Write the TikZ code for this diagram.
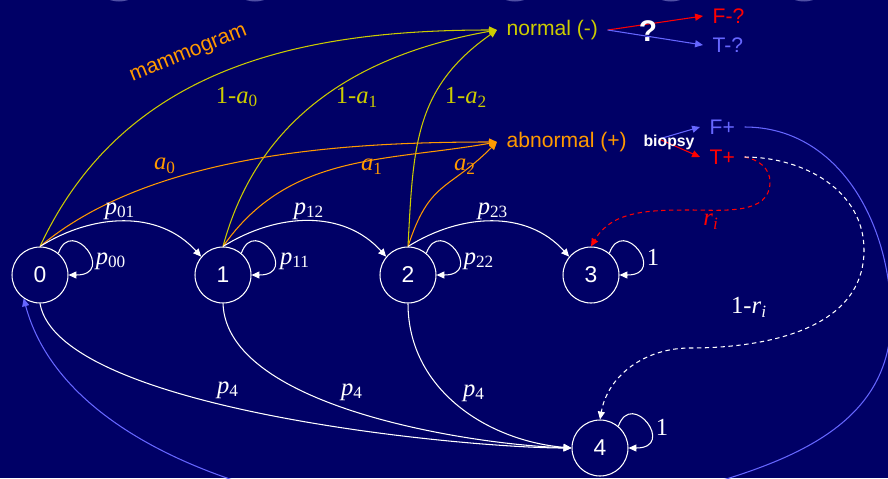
\documentclass[tikz,border=0pt]{standalone}
\usepackage{fontspec}
\setmainfont{Liberation Serif}
\setsansfont{Liberation Sans}
\usepackage{tikz}
\usetikzlibrary{arrows.meta}

\definecolor{bgnavy}{RGB}{0,0,102}
\definecolor{mamyellow}{RGB}{204,204,0}
\definecolor{mamorange}{RGB}{255,153,0}
\definecolor{fpblue}{RGB}{102,102,255}
\definecolor{tpred}{RGB}{255,0,0}
\definecolor{blobblue}{RGB}{80,80,165}

\newcommand{\lbl}[2]{\textit{#1}\textsubscript{#2}}

\begin{document}
\begin{tikzpicture}[
    x=0.02cm, y=0.02cm,
    state/.style={circle, draw=white, line width=0.6pt, minimum size=1.12cm, inner sep=0pt, text=white, font=\sffamily\fontsize{13}{15}\selectfont},
    result/.style={inner sep=2pt, outer sep=3.5pt, font=\sffamily\fontsize{12}{14}\selectfont},
    prob/.style={inner sep=1pt, font=\fontsize{14}{16}\selectfont},
    line/.style={draw, line width=0.6pt, -{Triangle[length=4.5pt, width=4pt]}},
    wline/.style={line, white},
    yline/.style={line, mamyellow},
    oline/.style={line, mamorange},
    dline/.style={line, dash pattern=on 2.5pt off 2pt},
    selfloop/.style={out=70, in=0, out distance=0.8cm, in distance=0.96cm}
]

    \useasboundingbox (0,0) rectangle (888,478);
    \fill [bgnavy] (0,0) rectangle (888,478);
    \clip (0,0) rectangle (888,478);

    % slide decoration
    \foreach \bx in {119,255,515,671,804}
        \fill [blobblue] (\bx,493) ellipse (22 and 16.5);

    % States
    \node (s0) [state] at (40,203) {0};
    \node (s1) [state] at (223,203) {1};
    \node (s2) [state] at (408,203) {2};
    \node (s3) [state] at (591,203) {3};
    \node (s4) [state] at (600,30) {4};

    % Mammogram results
    \node (normal) [result, anchor=west, text=mamyellow] at (497,448) {normal (-)};
    \node (abnormal) [result, anchor=west, text=mamorange] at (497,336) {abnormal (+)};
    \node (fq) [result, anchor=west, text=tpred] at (703,462) {F-?};
    \node (tq) [result, anchor=west, text=fpblue] at (703,433) {T-?};
    \node (fp) [result, anchor=west, text=fpblue] at (700,351) {F+};
    \node (tp) [result, anchor=west, text=tpred] at (700,321) {T+};
    \coordinate (bsplit) at (659,339);

    % Connectors
    \draw [line, tpred] (normal.east) -- (fq.west);
    \draw [line, fpblue] (normal.east) -- (tq.west);
    \draw [line, fpblue] (bsplit) -- (fp.west);
    \draw [line, tpred] (bsplit) -- (tp.west);
    \node (ask) [text=white, font=\sffamily\bfseries\fontsize{17}{19}\selectfont] at (648,447) {?};
    \node (biopsy) [text=white, font=\sffamily\bfseries\fontsize{9}{11}\selectfont] at (669,336) {biopsy};

    \draw [yline] (s0.north) to[out=65, in=180] (normal.west);
    \draw [yline] (s1.north) to[out=75, in=190] (normal.west);
    \draw [yline] (s2.north) to[out=87, in=215, looseness=1.1] (normal.west);
    \draw [oline] (s0.north) to[out=40, in=180, looseness=0.8] (abnormal.west);
    \draw [oline] (s1.north) to[out=55, in=190] (abnormal.west);
    \draw [oline] (s2.north) to[out=72, in=225, looseness=1.3] (abnormal.west);

    \draw [wline] (s0.north) to[out=32, in=132] (s1.140);
    \draw [wline] (s1.north) to[out=32, in=132] (s2.140);
    \draw [wline] (s2.north) to[out=32, in=132] (s3.140);

    \draw [wline] (s0.50) to[selfloop] (s0.east);
    \draw [wline] (s1.50) to[selfloop] (s1.east);
    \draw [wline] (s2.50) to[selfloop] (s2.east);
    \draw [wline] (s3.50) to[selfloop] (s3.east);
    \draw [wline] (s4.50) to[selfloop] (s4.east);

    \draw [wline] (s0.south) to[out=-80, in=180, looseness=0.5] (s4.west);
    \draw [wline] (s1.south) to[out=-88, in=178, looseness=0.7] (s4.west);
    \draw [wline] (s2.south) to[out=-90, in=175] (s4.west);

    % biopsy outcomes
    \draw [dline, tpred] (tp.east) to[out=-10, in=90] (770,296)
        to[out=-90, in=0] (690,268) to[out=180, in=60] (s3.north);
    \draw [dline, white] (tp.east) to[out=0, in=90] (864,228)
        to[out=-90, in=0] (690,130) to[out=180, in=80] (s4.north);
    \draw [line, fpblue] (fp.east) to[out=0, in=90] (891,160)
        to[out=-90, in=15] (620,-30) to[out=192, in=-75, looseness=0.8] (s0.235);

    % Labels
    \node (mammo) [text=mamorange, rotate=22, font=\sffamily\fontsize{12}{14}\selectfont] at (189,423) {mammogram};
    \node (la0) [prob, text=mamyellow] at (237,381) {1-\lbl{a}{0}};
    \node (la1) [prob, text=mamyellow] at (357,381) {1-\lbl{a}{1}};
    \node (la2) [prob, text=mamyellow] at (466,381) {1-\lbl{a}{2}};
    \node (a0) [prob, text=mamorange] at (165,312) {\lbl{a}{0}};
    \node (a1) [prob, text=mamorange] at (372,311) {\lbl{a}{1}};
    \node (a2) [prob, text=mamorange] at (465,311) {\lbl{a}{2}};
    \node (p01) [prob, text=white] at (120,267) {\lbl{p}{01}};
    \node (p12) [prob, text=white] at (309,267) {\lbl{p}{12}};
    \node (p23) [prob, text=white] at (493,267) {\lbl{p}{23}};
    \node (p00) [prob, text=white] at (111,217) {\lbl{p}{00}};
    \node (p11) [prob, text=white] at (295,217) {\lbl{p}{11}};
    \node (p22) [prob, text=white] at (479,217) {\lbl{p}{22}};
    \node (one3) [prob, text=white] at (653,221) {1};
    \node (one4) [prob, text=white] at (662,51) {1};
    \node (p4a) [prob, text=white] at (228,88) {\lbl{p}{4}};
    \node (p4b) [prob, text=white] at (352,86) {\lbl{p}{4}};
    \node (p4c) [prob, text=white] at (474,85) {\lbl{p}{4}};
    \node (ri) [prob, text=tpred] at (711,256) {\textit{r}\textsubscript{\textit{i}}};
    \node (nri) [prob, text=white] at (749,171) {1-\textit{r}\textsubscript{\textit{i}}};

\end{tikzpicture}
\end{document}
